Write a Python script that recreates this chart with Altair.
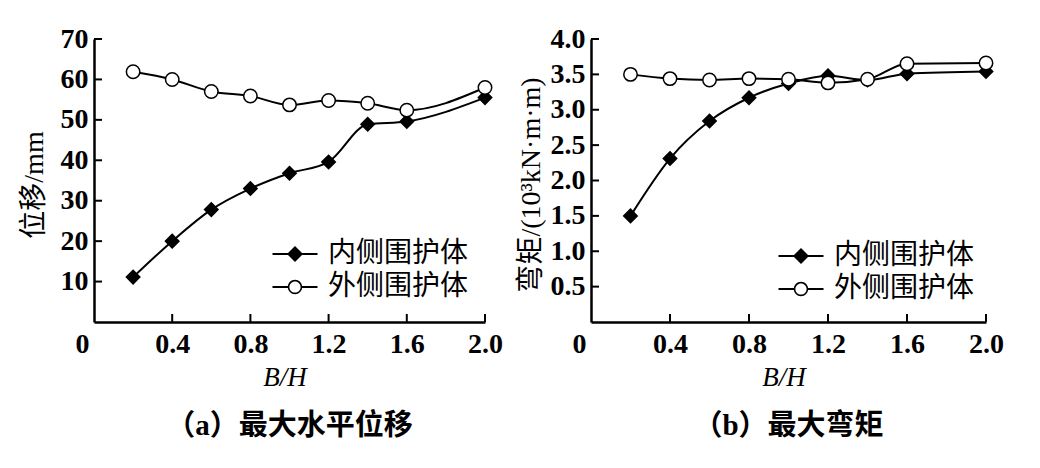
import altair as alt
import pandas as pd

# ---------------- data ----------------
x_vals = [0.2, 0.4, 0.6, 0.8, 1.0, 1.2, 1.4, 1.6, 2.0]
series_names = ["内侧围护体", "外侧围护体"]

disp_inner = [11.1, 20.0, 27.8, 33.0, 36.8, 39.6, 48.9, 49.6, 55.5]
disp_outer = [61.9, 60.0, 57.0, 55.9, 53.7, 54.8, 54.1, 52.4, 58.0]

mom_inner = [1.50, 2.31, 2.84, 3.17, 3.37, 3.48, 3.42, 3.51, 3.54]
mom_outer = [3.50, 3.44, 3.42, 3.44, 3.43, 3.38, 3.43, 3.65, 3.66]

x_label_values = [0, 0.4, 0.8, 1.2, 1.6, 2.0]
x_tick_values = [0.4, 0.8, 1.2, 1.6, 2.0]
disp_tick_values = [10, 20, 30, 40, 50, 60, 70]
mom_tick_values = [0.5, 1.0, 1.5, 2.0, 2.5, 3.0, 3.5, 4.0]

titles = {
    "a": ("位移/mm", "（a）最大水平位移"),
    "b": ("弯矩/(10³kN·m·m)", "（b）最大弯矩"),
}

NUM_FONT = "Liberation Serif"
CJK_FONT = "Liberation Serif, Noto Sans CJK SC"

# legend symbols: line + marker, all filled shapes (units: 1 = 10 px at size 400)
SYM_INNER = ("M-2.25,-0.1L2.25,-0.1L2.25,0.1L-2.25,0.1Z"
             "M-0.8,0L0,-0.8L0.8,0L0,0.8Z")
SYM_OUTER = ("M-2.25,-0.1L-0.66,-0.1L-0.66,0.1L-2.25,0.1Z"
             "M0.66,-0.1L2.25,-0.1L2.25,0.1L0.66,0.1Z"
             "M-0.72,0A0.72,0.72,0,1,1,0.72,0A0.72,0.72,0,1,1,-0.72,0Z"
             "M-0.56,0A0.56,0.56,0,1,0,0.56,0A0.56,0.56,0,1,0,-0.56,0Z")


def panel(inner, outer, key, y_max, y_ticks, y_fmt, W, H, lx, ly):
    y_title, subtitle = titles[key]
    df = pd.DataFrame({
        "x": x_vals + x_vals,
        "y": inner + outer,
        "series": [series_names[0]] * len(x_vals) + [series_names[1]] * len(x_vals),
    })
    xs = alt.Scale(domain=[0, 2.0], nice=False, zero=True)
    ys = alt.Scale(domain=[0, y_max], nice=False, zero=True)

    x_axis = alt.Axis(
        values=x_label_values,
        labelExpr="datum.value == 0 ? '0' : format(datum.value, '.1f')",
        title="B/H",
        titleFontStyle="italic",
        titleFont=NUM_FONT,
        titleFontWeight="normal",
        titleFontSize=27,
        titleX=W / 2 - 5,
        titleY=55,
        titleBaseline="middle",
        ticks=False,
        tickSize=0,
        labelPadding=8,
        labelOffset={"condition": {"test": "datum.value == 0", "value": -12}, "value": 0},
        grid=False,
    )
    y_axis = alt.Axis(
        values=y_ticks,
        format=y_fmt,
        title=y_title,
        titleFont=CJK_FONT,
        titleFontWeight="normal",
        titleFontSize=28,
        titleX=-60,
        titleY=H / 2 + 4,
        titleBaseline="middle",
        ticks=False,
        tickSize=0,
        labelPadding=6,
        grid=False,
    )

    X = lambda f: alt.X(f, scale=xs, axis=x_axis)
    Y = lambda f: alt.Y(f, scale=ys, axis=y_axis)

    lines = alt.Chart(df).mark_line(
        interpolate="monotone", color="black", strokeWidth=2
    ).encode(
        x=X("x:Q"),
        y=Y("y:Q"),
        detail="series:N",
    )

    points = alt.Chart(df).mark_point(
        filled=False, stroke="black", strokeWidth=1.5, size=180, opacity=1
    ).encode(
        x=X("x:Q"),
        y=Y("y:Q"),
        shape=alt.Shape("series:N",
                        scale=alt.Scale(domain=series_names, range=["diamond", "circle"]),
                        legend=None),
        fill=alt.Fill("series:N",
                      scale=alt.Scale(domain=series_names, range=["black", "white"]),
                      legend=None),
    )

    legend_layer = alt.Chart(df).mark_point(
        filled=True, color="black", opacity=0
    ).encode(
        x=X("x:Q"),
        y=Y("y:Q"),
        shape=alt.Shape(
            "series:N",
            scale=alt.Scale(domain=series_names, range=[SYM_INNER, SYM_OUTER]),
            legend=alt.Legend(
                title=None,
                orient="none",
                legendX=lx,
                legendY=ly,
                padding=0,
                symbolSize=400,
                symbolFillColor="black",
                symbolStrokeWidth=0,
                symbolOpacity=1,
                labelFont=CJK_FONT,
                labelFontSize=28,
                labelColor="black",
                labelLimit=400,
                labelOffset=19,
                rowPadding=5,
            ),
        ),
    )

    xt = alt.Chart(pd.DataFrame({"v": x_tick_values})).mark_rule(
        color="black", strokeWidth=2
    ).encode(
        x=X("v:Q"),
        y=alt.value(H),
        y2=alt.value(H - 8),
    )
    yt = alt.Chart(pd.DataFrame({"v": y_ticks})).mark_rule(
        color="black", strokeWidth=2
    ).encode(
        y=Y("v:Q"),
        x=alt.value(0),
        x2=alt.value(8),
    )

    return alt.layer(lines, xt, yt, points, legend_layer).resolve_scale(
        shape="independent"
    ).properties(
        width=W,
        height=H,
        title=alt.TitleParams(
            text=subtitle,
            orient="bottom",
            anchor="middle",
            frame="group",
            font=CJK_FONT,
            fontSize=29,
            fontWeight="bold",
            color="black",
            offset=22,
        ),
    )


left = panel(disp_inner, disp_outer, "a", 70, disp_tick_values, "d", 391, 283, 187, 201)
right = panel(mom_inner, mom_outer, "b", 4.0, mom_tick_values, ".1f", 395, 283, 196, 203)

chart = alt.hconcat(left, right, spacing=14).properties(
    padding={"left": 12, "top": 17, "right": 5, "bottom": 5},
    background="white",
).configure_view(
    stroke=None
).configure_axis(
    labelFont=NUM_FONT,
    labelFontWeight="bold",
    labelFontSize=28,
    labelColor="black",
    titleColor="black",
    domainColor="black",
    domainWidth=2.5,
    labelFlush=False,
    labelOverlap=False,
)

chart.save("out.html", embed_options={"renderer": "svg", "actions": False})
